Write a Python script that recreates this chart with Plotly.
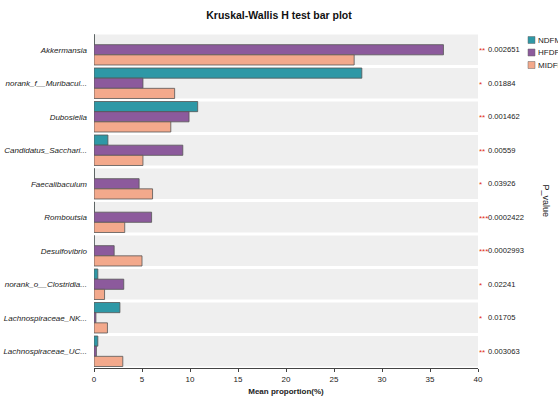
import plotly.graph_objects as go

taxa = [
    "Akkermansia",
    "norank_f__Muribacul...",
    "Dubosiella",
    "Candidatus_Sacchari...",
    "Faecalibaculum",
    "Romboutsia",
    "Desulfovibrio",
    "norank_o__Clostridia...",
    "Lachnospiraceae_NK...",
    "Lachnospiraceae_UC...",
]
ndfm = [0.05, 27.9, 10.8, 1.45, 0.05, 0.05, 0.03, 0.4, 2.7, 0.4]
hfdfm = [36.4, 5.1, 9.9, 9.25, 4.7, 6.0, 2.1, 3.1, 0.2, 0.25]
midfm = [27.1, 8.4, 8.0, 5.1, 6.1, 3.2, 5.0, 1.1, 1.4, 3.0]
p_values = ["0.002651", "0.01884", "0.001462", "0.00559", "0.03926",
            "0.0002422", "0.0002993", "0.02241", "0.01705", "0.003063"]
stars = ["**", "*", "**", "**", "*", "***", "***", "*", "*", "**"]
x_ticks = [0, 5, 10, 15, 20, 25, 30, 35, 40]

groups = [("NDFM", ndfm, "#2E98A6"),
          ("HFDFM", hfdfm, "#8C5A9C"),
          ("MIDFM", midfm, "#F3A98C")]

FONT = "Liberation Sans, Arial, sans-serif"
W, H = 558, 396
ML, MR, MT, MB = 94, 80, 33, 28
PW, PH = W - ML - MR, H - MT - MB


def px_x(px):
    return (px - ML) / PW


def px_y(py):
    return (H - MB - py) / PH


fig = go.Figure()
for name, vals, col in groups:
    fig.add_trace(go.Bar(
        y=taxa, x=vals, name=name, orientation="h", showlegend=False,
        marker=dict(color=col, line=dict(color="#555555", width=0.8)),
    ))

# grey background band behind each taxon row
for i in range(len(taxa)):
    fig.add_shape(type="rect", xref="paper", yref="y",
                  x0=0, x1=1, y0=i - 0.455, y1=i + 0.455,
                  fillcolor="#EFEFEF", line=dict(width=0), layer="below")

# significance stars and p-values on the right
for i, (s, p) in enumerate(zip(stars, p_values)):
    fig.add_annotation(x=1, xref="paper", y=taxa[i], yref="y",
                       text=s, showarrow=False, xanchor="left", yanchor="middle",
                       xshift=-1, yshift=-1,
                       font=dict(family=FONT, size=8, color="#E03020"))
    fig.add_annotation(x=px_x(486), xref="paper", y=taxa[i], yref="y",
                       text=p, showarrow=False, xanchor="left", yanchor="middle",
                       font=dict(family=FONT, size=7.6, color="#222222"))

fig.add_annotation(x=px_x(546), xref="paper", y=0.5, yref="paper", text="P_value",
                   showarrow=False, textangle=90, xanchor="center", yanchor="middle",
                   font=dict(family=FONT, size=9, color="#222222"))

# legend: colour swatch plus group name
for k, (name, _, col) in enumerate(groups):
    cy = 40 + 12.5 * k
    fig.add_shape(type="rect", xref="paper", yref="paper",
                  x0=px_x(528), x1=px_x(535), y0=px_y(cy + 3.5), y1=px_y(cy - 3.5),
                  fillcolor=col, line=dict(color="#666666", width=0.5))
    fig.add_annotation(x=px_x(536), xref="paper", y=px_y(cy), yref="paper",
                       text=name, showarrow=False, xanchor="left", yanchor="middle",
                       font=dict(family=FONT, size=8, color="#222222"))

fig.update_layout(
    width=W, height=H,
    margin=dict(l=ML, r=MR, t=MT, b=MB, autoexpand=False),
    paper_bgcolor="white", plot_bgcolor="white",
    barmode="group", bargap=0.09, bargroupgap=0,
    showlegend=False,
    title=dict(text="<b>Kruskal-Wallis H test bar plot</b>", x=0.5, xanchor="center",
               y=1 - 15 / H, yanchor="middle",
               font=dict(family=FONT, size=10.5, color="#111111")),
    font=dict(family=FONT, size=8, color="#222222"),
    xaxis=dict(range=[0, 40], tickvals=x_ticks, showgrid=False, zeroline=False,
               showline=True, linecolor="#444444", linewidth=1,
               ticks="outside", ticklen=3, tickcolor="#444444",
               tickfont=dict(size=8), automargin=False,
               title=dict(text="<b>Mean proportion(%)</b>", standoff=5,
                          font=dict(size=8))),
    yaxis=dict(categoryorder="array", categoryarray=taxa, autorange="reversed",
               showgrid=False, zeroline=False, showline=False, ticks="",
               ticklabelstandoff=6, automargin=False,
               tickfont=dict(size=8, style="italic")),
)

fig.write_html("out.html")
